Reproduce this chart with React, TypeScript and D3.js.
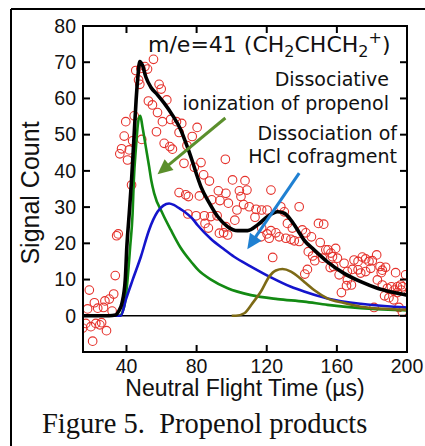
import React from 'react';
import * as d3 from 'd3';

const xTicks = [40, 80, 120, 160, 200];
const yTicks = [0, 10, 20, 30, 40, 50, 60, 70, 80];

// measured signal counts: [flight time (µs), count]
const signalPoints: [number, number][] = [
  [15.0, -3.4], [16.8, -2.1], [17.8, 1.9], [18.8, 7.1], [19.7, -3.0], [20.7, -7.0], [21.7, 3.6], [22.5, -2.1],
  [23.6, 2.1], [24.8, -2.5], [25.8, -1.9], [26.9, 2.3], [27.7, 4.1], [28.6, -4.1], [30.2, 4.6], [31.8, 1.3],
  [32.7, 6.0], [33.6, 11.1], [34.4, 22.1], [35.3, 22.6],
  [36.2, 44.7], [37.2, 46.1], [38.7, 49.6], [39.6, 53.6], [40.6, 43.0], [41.6, 45.8], [42.9, 36.1], [43.5, 48.3],
  [44.4, 55.2], [45.3, 67.7], [46.9, 65.1], [47.6, 63.9], [48.2, 68.3], [48.7, 48.7], [50.5, 68.8], [52.0, 68.1],
  [52.5, 59.3], [54.8, 58.2], [55.4, 70.8], [57.1, 50.8], [57.7, 56.1], [58.6, 63.9], [59.8, 62.6], [60.5, 53.6],
  [61.5, 47.6], [63.0, 59.6], [64.7, 46.7], [65.2, 54.2], [66.2, 46.0], [68.5, 53.6], [70.0, 50.6], [70.0, 34.0],
  [71.5, 53.1], [72.8, 42.1], [73.8, 33.4], [75.3, 32.9], [77.5, 49.5], [74.5, 47.0], [80.3, 52.0], [78.7, 41.0],
  [82.5, 42.3], [84.0, 38.9], [81.6, 33.1],
  [96.4, 43.2], [87.3, 37.2], [100.5, 37.5], [107.6, 37.3], [104.4, 34.5], [108.7, 34.7], [122.4, 34.7], [92.4, 34.5],
  [96.7, 33.8], [88.6, 32.0], [105.3, 32.9], [93.3, 31.8], [98.1, 31.1], [106.8, 30.7], [103.0, 29.2], [110.0, 30.1],
  [113.9, 29.4], [117.1, 29.2], [120.2, 29.2], [128.0, 30.1], [138.5, 30.1], [130.0, 28.7], [75.0, 28.1], [79.7, 27.6],
  [84.4, 27.6], [88.2, 27.4], [91.7, 27.6], [113.3, 27.2], [96.7, 24.6], [101.8, 26.4], [84.8, 25.5], [86.7, 24.2],
  [93.0, 22.8], [97.7, 22.3], [95.4, 22.9], [117.1, 24.2], [120.2, 22.6], [122.4, 23.5], [125.2, 22.9], [131.8, 25.5],
  [134.6, 24.2], [140.3, 23.7], [127.1, 21.8], [130.9, 21.4], [133.8, 21.1], [135.7, 20.7], [138.5, 20.5], [116.7, 21.8],
  [121.4, 21.4], [123.4, 16.1],
  [142.3, 22.9], [145.5, 21.8], [149.5, 25.5], [152.5, 25.3], [150.5, 20.2], [143.7, 17.7], [146.2, 16.5], [153.7, 18.2],
  [155.0, 18.2], [156.6, 17.3], [159.3, 18.6], [160.3, 15.9], [157.5, 16.3], [164.1, 14.5], [151.8, 15.9], [147.4, 15.2],
  [156.2, 13.3], [158.1, 13.6], [143.2, 12.8], [141.7, 11.5], [161.3, 11.3], [166.0, 9.9], [168.3, 8.5], [165.5, 8.3],
  [162.6, 6.4], [169.8, 15.4], [172.1, 15.0], [174.5, 16.2], [176.4, 15.7], [178.3, 15.0], [180.2, 15.2], [182.7, 16.8],
  [179.3, 13.1], [176.4, 12.2], [173.6, 11.8], [172.1, 12.7], [168.8, 12.8], [166.0, 12.2], [185.9, 12.6], [187.8, 13.4],
  [185.3, 11.9], [193.5, 11.9], [199.2, 11.3], [183.1, 9.9], [185.9, 8.5], [188.8, 7.6], [191.1, 8.0], [192.6, 7.1],
  [194.5, 8.0], [196.4, 8.5], [197.4, 8.0], [187.2, 5.5], [189.7, 5.0], [194.5, 6.4], [196.7, 7.1], [181.2, 2.3],
  [195.4, 2.3], [197.3, 1.1], [184.6, 13.6], [192.4, 4.4],
];

// fitted curves
const totalFit: [number, number][] = [
  [15, 0], [20, 0], [25, 0], [30, 0], [33.8, 0.2], [35.5, 1.2], [37.4, 3.4], [39.3, 9.9], [40.2, 19], [41.6, 28.4],
  [42.9, 37.5], [44.2, 48.5], [45.5, 59.6], [46.5, 66], [47.6, 70.2], [49.1, 69.2], [51, 66], [53.9, 63.1],
  [57.7, 61], [61.5, 58.7], [66.2, 55.4], [71, 51.3], [73.5, 48.2], [75.7, 45.3], [77.8, 42.3], [80, 39],
  [82.5, 35.6], [87.3, 31.1], [92, 27.4], [97.7, 24.6], [103.4, 23.5], [109.1, 23.5], [114.8, 25.1], [120.5, 27.4],
  [126.2, 28.7], [130, 28.3], [133.8, 26.4], [137.6, 23.7], [141.3, 20.9], [147, 18.2], [154.6, 14.9], [164.1, 11.7],
  [173.6, 9.4], [183.1, 7.6], [192.6, 6.4], [200, 5.7],
];
const ionizationFit: [number, number][] = [
  [15, 0], [30, 0], [35.9, 0], [38.7, 2.5], [40.6, 9.9], [42.1, 19], [43.5, 28.3], [44.2, 37.5], [45.3, 45.8],
  [46.9, 54.2], [47.9, 55.2], [49.1, 52.2], [51, 46.7], [52.9, 41.2], [54.1, 37.5], [55.8, 33.8], [60.5, 28.3],
  [65.3, 23.7], [70.6, 19], [77.6, 14.5], [81, 12.6], [88.2, 10], [97.7, 7.6], [111, 5.7], [126.2, 4.6],
  [141.3, 3.9], [154.6, 3.0], [173.6, 2.1], [192.6, 1.6], [200, 1.5],
];
const secondFit: [number, number][] = [
  [15, 0], [30, 0], [36.8, 0], [39.6, 4.4], [43.5, 9.9], [48.2, 16.3], [52.9, 23.7], [57.7, 28.7], [61, 30.4],
  [64.3, 31], [67, 30.6], [70, 29.7], [73.1, 28.7], [77.6, 26.8], [80.6, 25], [88.2, 21.2], [95.8, 18.3],
  [101.4, 16.3], [111, 13.6], [122.4, 10.6], [133.8, 8], [141.3, 6.7], [154.6, 4.8], [173.6, 3.3], [192.6, 2.5],
  [200, 2.3],
];
const hclFit: [number, number][] = [
  [100, 0], [102.4, 0], [107.2, 0.7], [111.9, 3.5], [116.7, 6.7], [121.4, 10.8], [125.2, 12.5], [129, 12.9],
  [133.8, 12.2], [138.5, 10.6], [141.3, 9.4], [147, 7.1], [154.6, 4.8], [164.1, 3.5], [173.6, 2.5], [192.6, 1.8],
  [200, 1.6],
];

// annotation arrows in data coordinates: [from, to]
const greenArrow: [number, number][] = [[96.4, 54.6], [57.7, 39.1]];
const blueArrow: [number, number][] = [[138.5, 39.4], [108.9, 18.4]];

const W = 425;
const H = 446;
const left = 83, right = 407, top = 26, bottom = 352;

const x = d3.scaleLinear().domain([15.2, 200]).range([left, right]);
const y = d3.scaleLinear().domain([-10, 80]).range([bottom, top]);

const line = d3
  .line<[number, number]>()
  .x((d) => x(d[0]))
  .y((d) => y(d[1]))
  .curve(d3.curveMonotoneX);

function Arrow({ pts, color }: { pts: [number, number][]; color: string }) {
  const x1 = x(pts[0][0]), y1 = y(pts[0][1]);
  const x2 = x(pts[1][0]), y2 = y(pts[1][1]);
  const ang = Math.atan2(y2 - y1, x2 - x1);
  const hl = 15, hw = 7;
  const bx = x2 - hl * Math.cos(ang), by = y2 - hl * Math.sin(ang);
  const px = -Math.sin(ang), py = Math.cos(ang);
  const head = `${x2},${y2} ${bx + hw * px},${by + hw * py} ${bx - hw * px},${by - hw * py}`;
  return (
    <g>
      <line x1={x1} y1={y1} x2={bx + 2 * Math.cos(ang)} y2={by + 2 * Math.sin(ang)} stroke={color} strokeWidth={3} />
      <polygon points={head} fill={color} />
    </g>
  );
}

export default function App() {
  const sans = "'Liberation Sans', Arial, sans-serif";
  const ann = "'DejaVu Sans', Verdana, sans-serif";
  return (
    <svg width={W} height={H} style={{ position: 'absolute', left: 0, top: 0, background: '#fff' }}>
      <rect x={0} y={0} width={W} height={H} fill="#fff" />
      {/* page frame */}
      <line x1={11} y1={9} x2={W} y2={9} stroke="#000" strokeWidth={2} />
      <line x1={11} y1={9} x2={11} y2={H} stroke="#000" strokeWidth={2} />

      <defs>
        <clipPath id="plotClip">
          <rect x={left} y={top} width={right - left} height={bottom - top} />
        </clipPath>
      </defs>

      {/* zero line */}
      <line x1={left} x2={right} y1={y(0)} y2={y(0)} stroke="#000" strokeWidth={1.6} />

      <g clipPath="url(#plotClip)">
        {signalPoints.map((d, i) => (
          <circle key={i} cx={x(d[0])} cy={y(d[1])} r={4.3} fill="none" stroke="#e5322c" strokeWidth={1.1} />
        ))}
        <path d={line(ionizationFit) || ''} fill="none" stroke="#138a13" strokeWidth={2.6} />
        <path d={line(secondFit) || ''} fill="none" stroke="#1414cc" strokeWidth={2.6} />
        <path d={line(hclFit) || ''} fill="none" stroke="#7d6a16" strokeWidth={2.6} />
        <path d={line(totalFit) || ''} fill="none" stroke="#000" strokeWidth={3.6} strokeLinejoin="round" />
      </g>

      <Arrow pts={greenArrow} color="#5b8f2c" />
      <Arrow pts={blueArrow} color="#1f80d2" />

      {/* frame */}
      <rect x={left} y={top} width={right - left} height={bottom - top} fill="none" stroke="#000" strokeWidth={2} />

      {/* ticks */}
      {yTicks.map((t) => (
        <g key={'y' + t}>
          <line x1={left} x2={left + 7} y1={y(t)} y2={y(t)} stroke="#000" strokeWidth={2} />
          <line x1={right - 7} x2={right} y1={y(t)} y2={y(t)} stroke="#000" strokeWidth={2} />
          <text x={76} y={y(t)} dy="0.35em" textAnchor="end" fontFamily={sans} fontSize={19.5} fill="#111">
            {t}
          </text>
        </g>
      ))}
      {xTicks.map((t) => (
        <g key={'x' + t}>
          {t < 200 && (
            <>
              <line x1={x(t)} x2={x(t)} y1={bottom} y2={bottom - 7} stroke="#000" strokeWidth={2} />
              <line x1={x(t)} x2={x(t)} y1={top} y2={top + 7} stroke="#000" strokeWidth={2} />
            </>
          )}
          <text x={x(t)} y={373} textAnchor="middle" fontFamily={sans} fontSize={19.5} fill="#111">
            {t}
          </text>
        </g>
      ))}

      {/* axis titles */}
      <text x={245} y={396} textAnchor="middle" fontFamily={sans} fontSize={23} fill="#111">
        Neutral Flight Time (µs)
      </text>
      <text transform="translate(39,193) rotate(-90)" textAnchor="middle" fontFamily={sans} fontSize={25} fill="#111">
        Signal Count
      </text>

      {/* title */}
      <text x={148} y={52} fontFamily={ann} fontSize={22} fill="#111">
        m/e=41 (CH<tspan fontSize={16} dy={5}>2</tspan>
        <tspan dy={-5}>CHCH</tspan>
        <tspan fontSize={16} dy={5}>2</tspan>
        <tspan fontSize={16} dy={-14}>+</tspan>
        <tspan dy={9}>)</tspan>
      </text>

      {/* annotations */}
      <text x={389} y={86} textAnchor="end" fontFamily={ann} fontSize={19} fill="#111">Dissociative</text>
      <text x={389} y={110} textAnchor="end" fontFamily={ann} fontSize={19} fill="#111">ionization of propenol</text>
      <text x={397} y={140} textAnchor="end" fontFamily={ann} fontSize={19} fill="#111">Dissociation of</text>
      <text x={397} y={163} textAnchor="end" fontFamily={ann} fontSize={19} fill="#111">HCl cofragment</text>

      {/* caption */}
      <text x={42} y={433} fontFamily="'Liberation Serif', 'Times New Roman', serif" fontSize={28.5} fill="#111" style={{ whiteSpace: 'pre' }}>
        {'Figure 5.  Propenol products'}
      </text>
    </svg>
  );
}
